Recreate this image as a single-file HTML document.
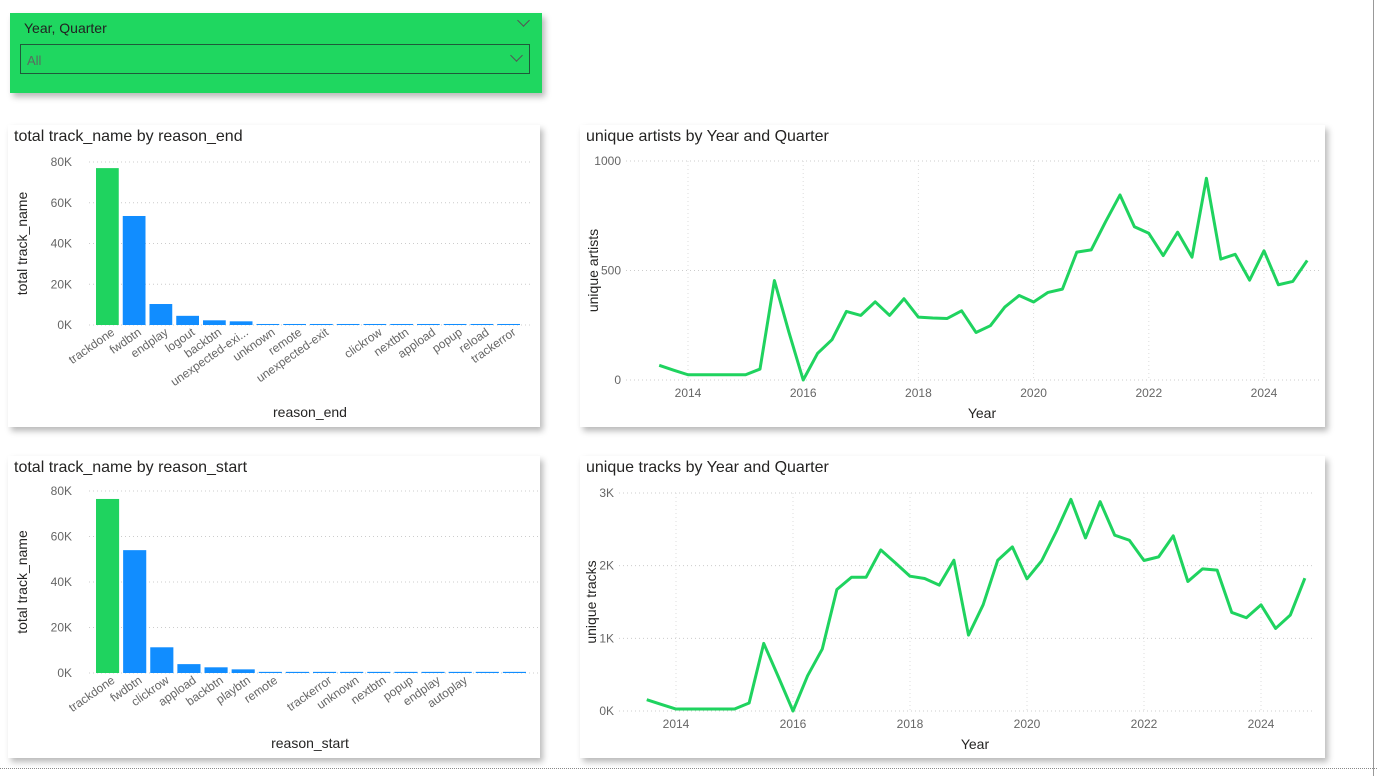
<!DOCTYPE html>
<html><head><meta charset="utf-8"><style>
body{margin:0;width:1377px;height:776px;background:#fff;font-family:"Liberation Sans","DejaVu Sans",sans-serif;overflow:hidden;position:relative}
.panel{position:absolute;background:#fff;box-shadow:3px 4px 6px rgba(0,0,0,.28)}
.title{position:absolute;left:6px;top:3px;font-size:16px;color:#252423}
svg{position:absolute;left:0;top:0}
</style></head><body>
<div class="panel" style="left:10px;top:13px;width:532px;height:80px;background:#1fd760">
 <div style="position:absolute;left:14px;top:7px;font-size:14px;color:#222">Year, Quarter</div>
 <div style="position:absolute;right:14px;top:3px;width:8px;height:8px;border-right:1px solid #555;border-bottom:1px solid #555;transform:rotate(45deg)"></div>
 <div style="position:absolute;left:10px;top:31px;width:510px;height:30px;border:1px solid #1f5a3a;box-sizing:border-box">
  <span style="position:absolute;left:6px;top:8px;font-size:13px;color:#5a6a60">All</span>
  <span style="position:absolute;right:8px;top:6px;width:8px;height:8px;border-right:1px solid #555;border-bottom:1px solid #555;transform:rotate(45deg)"></span>
 </div>
</div>
<div class="panel" style="left:8px;top:125px;width:532px;height:302px"><div class="title">total track_name by reason_end</div></div>
<div class="panel" style="left:580px;top:125px;width:745px;height:302px"><div class="title">unique artists by Year and Quarter</div></div>
<div class="panel" style="left:8px;top:456px;width:532px;height:302px"><div class="title">total track_name by reason_start</div></div>
<div class="panel" style="left:580px;top:456px;width:745px;height:302px"><div class="title">unique tracks by Year and Quarter</div></div>
<div style="position:absolute;left:0;top:768px;width:1377px;border-top:1px dotted #888"></div>
<div style="position:absolute;left:1373px;top:0;height:776px;border-left:1px solid #999"></div>
<svg id="chart" width="1377" height="776"></svg>
<script>
const endCats=["trackdone","fwdbtn","endplay","logout","backbtn","unexpected-exi...","unknown","remote","unexpected-exit","","clickrow","nextbtn","appload","popup","reload","trackerror"];
const endVals=[77,53.5,10.3,4.5,2.3,1.8,0.5,0.5,0.5,0.5,0.5,0.5,0.5,0.5,0.5,0.5];
const startCats=["trackdone","fwdbtn","clickrow","appload","backbtn","playbtn","remote","","trackerror","unknown","nextbtn","popup","endplay","autoplay","",""];
const startVals=[76.5,54,11.3,3.9,2.5,1.6,0.5,0.5,0.5,0.5,0.5,0.5,0.5,0.5,0.5,0.5];
const barTicks=[0,20,40,60,80];
const quarters=[2013.5,2013.75,2014,2014.25,2014.5,2014.75,2015,2015.25,2015.5,2015.75,2016,2016.25,2016.5,2016.75,2017,2017.25,2017.5,2017.75,2018,2018.25,2018.5,2018.75,2019,2019.25,2019.5,2019.75,2020,2020.25,2020.5,2020.75,2021,2021.25,2021.5,2021.75,2022,2022.25,2022.5,2022.75,2023,2023.25,2023.5,2023.75,2024,2024.25,2024.5,2024.75];
const artists=[67,45,24,24,24,24,24,50,454,220,0,122,184,313,295,357,295,371,287,283,281,316,217,248,333,386,356,400,415,584,594,723,845,700,670,568,675,561,921,552,574,456,590,435,450,546];
const tracks=[156,90,27,27,27,27,27,110,930,470,0,486,852,1672,1841,1841,2217,2038,1855,1823,1732,2075,1044,1461,2075,2258,1819,2066,2469,2913,2382,2881,2419,2350,2071,2121,2410,1782,1956,1938,1356,1283,1461,1136,1319,1828];
const yearTicks=[2014,2016,2018,2020,2022,2024];
const artistTicks=[0,500,1000];
const trackTicks=[0,1000,2000,3000];
const svg=document.getElementById('chart');const NS="http://www.w3.org/2000/svg";
function mk(t,a,txt){const e=document.createElementNS(NS,t);for(const k in a)e.setAttribute(k,a[k]);if(txt!==undefined)e.textContent=txt;svg.appendChild(e);return e;}
function barChart(cats,vals,o){
 const y=v=>o.y0-(v/80)*(o.y0-o.y80);const bw=(o.x1-o.x0)/cats.length;
 barTicks.forEach(t=>{const g=mk('line',{x1:o.x0-5,x2:o.x1+10,y1:y(t),y2:y(t),stroke:'#ccc','stroke-dasharray':'1 3'});
  
  const l=mk('text',{x:o.x0-22,y:y(t)+4,'font-size':12,fill:'#666','text-anchor':'end'},t+'K');
  });
 cats.forEach((c,i)=>{const bx=o.x0+i*bw+2;const b=mk('rect',{x:bx,y:y(vals[i]),width:bw-4,height:y(0)-y(vals[i]),fill:i==0?'#1fd35f':'#118dff'});
  
  if(c){const cx=bx+bw/2+6,cy=o.y0+9;const t=mk('text',{x:cx,y:cy,'font-size':12,fill:'#666','text-anchor':'end',transform:`rotate(-35 ${cx} ${cy})`},c);
  }});
 const xt=mk('text',{x:o.xt,y:o.xty,'font-size':14,fill:'#252423','text-anchor':'middle'},o.xl);
 const yt=mk('text',{x:0,y:0,'font-size':14,fill:'#252423','text-anchor':'middle',transform:`translate(${o.ytx},${(o.y0+o.y80)/2}) rotate(-90)`},'total track_name');
}
barChart(endCats,endVals,{x0:94,x1:522,y0:325,y80:162,xl:'reason_end',xt:310,xty:417,ytx:27});
barChart(startCats,startVals,{x0:94,x1:528,y0:673,y80:491,xl:'reason_start',xt:310,xty:748,ytx:27});
function lineChart(vals,ticks,o){
 const x=v=>o.xa+(v-2014)*o.ppy;const y=v=>o.y0-(v/o.ymax)*(o.y0-o.ytop);
 ticks.forEach(t=>{const g=mk('line',{x1:o.gx0,x2:o.gx1,y1:y(t),y2:y(t),stroke:'#ccc','stroke-dasharray':'1 3'});
  const l=mk('text',{x:o.gx0-5,y:y(t)+4,'font-size':12,fill:'#666','text-anchor':'end'},o.fmt(t));});
 yearTicks.forEach(t=>{const g=mk('line',{x1:x(t),x2:x(t),y1:o.ytop,y2:o.y0,stroke:'#ddd','stroke-dasharray':'1 3'});
  const l=mk('text',{x:x(t),y:o.y0+17,'font-size':12,fill:'#666','text-anchor':'middle'},t);});
 const p=mk('polyline',{points:quarters.map((q,i)=>x(q)+','+y(vals[i])).join(' '),fill:'none',stroke:'#1fd35f','stroke-width':3,'stroke-linejoin':'round'});
 
 const xt=mk('text',{x:o.xtx,y:o.y0+38,'font-size':14,fill:'#252423','text-anchor':'middle'},'Year');
 const yt=mk('text',{x:0,y:0,'font-size':14,fill:'#252423','text-anchor':'middle',transform:`translate(${o.ytx},${(o.y0+o.ytop)/2}) rotate(-90)`},o.yl);
}
lineChart(artists,artistTicks,{xa:688,ppy:57.6,y0:380,ytop:161,ymax:1000,gx0:626,gx1:1320,fmt:t=>t,name:'artists',yl:'unique artists',xtx:982,ytx:598});
lineChart(tracks,trackTicks,{xa:676,ppy:58.5,y0:711,ytop:493,ymax:3000,gx0:619,gx1:1315,fmt:t=>(t/1000)+'K',name:'tracks',yl:'unique tracks',xtx:975,ytx:596});
</script>
</body></html>
